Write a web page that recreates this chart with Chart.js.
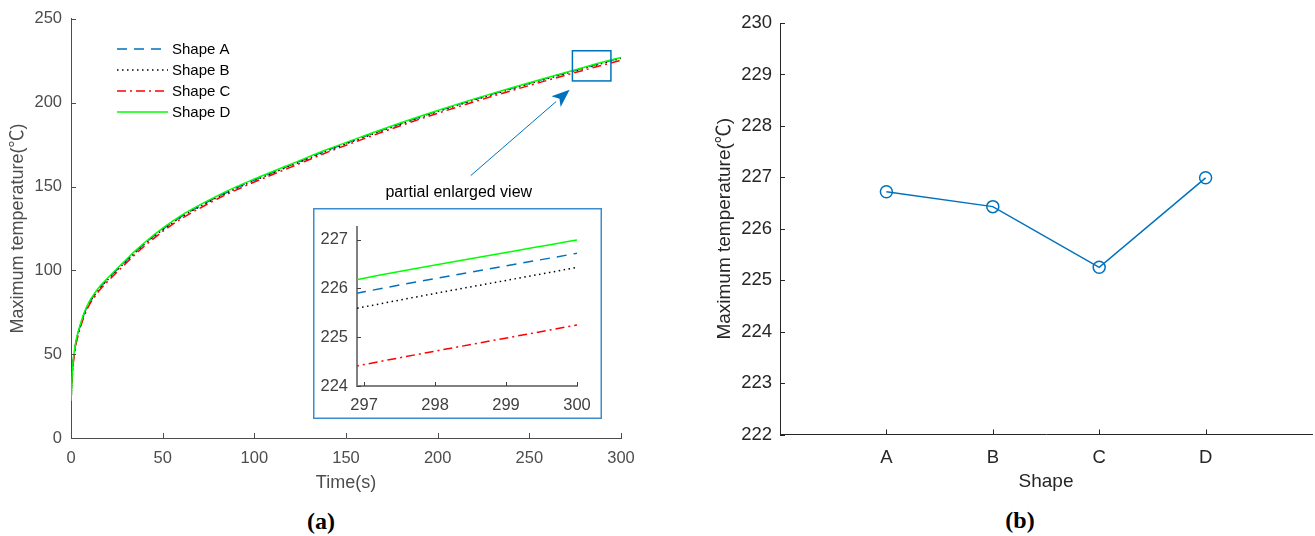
<!DOCTYPE html>
<html>
<head>
<meta charset="utf-8">
<script src="https://cdn.jsdelivr.net/npm/chart.js"></script>
<style>
  body { margin: 0; background: #fff; }
  #page { position: relative; width: 1315px; height: 536px; overflow: hidden; background: #fff; }
  #page canvas { position: absolute; }
  .tag { position: absolute; font: bold 24px 'Liberation Serif', 'DejaVu Serif', serif; color: #000; transform: translate(-50%, -50%); }
</style>
</head>
<body>
<div id="page">
  <canvas id="chartA" width="660" height="500" style="left:0px;top:0px"></canvas>
  <canvas id="chartInset" width="289" height="211" style="left:313px;top:208px"></canvas>
  <canvas id="chartB" width="624" height="500" style="left:700px;top:0px"></canvas>
  <div class="tag" style="left:321px;top:521px">(a)</div>
  <div class="tag" style="left:1020px;top:520px">(b)</div>
</div>

<script>
    // time (s) and maximum temperature for each shape
    const times = [0, 1, 2, 3, 5, 7, 10, 13, 16, 20, 25, 30, 35, 40, 50, 60, 70, 80, 90, 100,
        110, 120, 140, 160, 180, 200, 220, 240, 260, 280, 297, 300];
    const shapeA = [22, 43.3, 52.3, 58.8, 66.8, 73.6, 80.8, 85.8, 90.1, 94.7, 100.3, 105.6, 110.9, 115.8, 124.5,
        132.0, 138.2, 143.9, 149.1, 153.9, 158.4, 162.8, 171.7, 179.8, 187.6, 195.0, 201.9, 208.4, 214.7, 220.8, 225.93, 226.72];
    const shapeB = [22, 43.0, 52.0, 58.5, 66.5, 73.3, 80.5, 85.5, 89.8, 94.4, 100.0, 105.3, 110.6, 115.5, 124.2,
        131.7, 137.9, 143.6, 148.8, 153.6, 158.1, 162.5, 171.4, 179.5, 187.3, 194.7, 201.6, 208.1, 214.4, 220.5, 225.62, 226.43];
    const shapeC = [21.8, 41.5, 50.6, 57.2, 65.3, 72.1, 79.4, 84.4, 88.7, 93.3, 98.9, 104.2, 109.5, 114.4, 123.2,
        130.7, 136.9, 142.7, 147.9, 152.7, 157.2, 161.6, 170.5, 178.6, 186.4, 193.7, 200.6, 207.1, 213.4, 219.5, 224.44, 225.25];
    const shapeD = [22, 44, 53, 59.5, 67.5, 74.3, 81.5, 86.5, 90.8, 95.4, 101.0, 106.3, 111.6, 116.5, 125.2,
        132.7, 138.9, 144.6, 149.8, 154.5, 159.0, 163.4, 172.2, 180.3, 188.1, 195.4, 202.3, 208.8, 215.1, 221.2, 226.21, 226.99];
    const seriesNames = ['Shape A', 'Shape B', 'Shape C', 'Shape D'];

    // final maximum temperature per shape (right panel)
    const shapes = ['A', 'B', 'C', 'D'];
    const maxTemps = [226.72, 226.43, 225.25, 226.99];

    const FONT = "'Liberation Sans', Arial, 'Noto Sans CJK SC', sans-serif";
    Chart.defaults.font.family = FONT;
    Chart.defaults.animation = false;
    Chart.defaults.responsive = false;
    Chart.defaults.plugins.legend.display = false;
    Chart.defaults.plugins.tooltip.enabled = false;

    const pts = arr => arr.map((v, i) => ({x: times[i], y: v}));

    function makeDatasets() {
        const styles = [
            {color: '#0072BD', dash: [10, 7]},
            {color: '#000000', dash: [1.5, 3.5]},
            {color: '#FF0000', dash: [9, 4, 2, 4]},
            {color: '#00FF00', dash: []}
        ];
        return [shapeA, shapeB, shapeC, shapeD].map((arr, i) => ({
            label: seriesNames[i],
            data: pts(arr),
            showLine: true,
            borderColor: styles[i].color,
            borderDash: styles[i].dash,
            borderWidth: 1.5,
            pointRadius: 0,
            cubicInterpolationMode: 'monotone',
            order: 3 - i,
            clip: 0
        }));
    }

    // MATLAB style ticks pointing into the plot
    const innerTicks = {
        id: 'innerTicks',
        afterDatasetsDraw(chart, args, o) {
            const {ctx, chartArea: a} = chart;
            const xs = chart.scales.x, ys = chart.scales.y;
            ctx.save();
            ctx.strokeStyle = o.color;
            ctx.lineWidth = o.width;
            ctx.beginPath();
            xs.ticks.forEach(t => {
                if (o.skipEmpty && !t.label) return;
                const px = Math.round(xs.getPixelForValue(t.value)) + 0.5;
                ctx.moveTo(px, a.bottom);
                ctx.lineTo(px, a.bottom - o.length);
            });
            ys.ticks.forEach(t => {
                const py = Math.round(ys.getPixelForValue(t.value)) + 0.5;
                ctx.moveTo(a.left, py);
                ctx.lineTo(a.left + o.length, py);
            });
            ctx.stroke();
            ctx.restore();
        }
    };

    const lineLegend = {
        id: 'lineLegend',
        afterDraw(chart, args, o) {
            if (!o.show) return;
            const {ctx, chartArea: a} = chart;
            ctx.save();
            ctx.font = o.font;
            ctx.textBaseline = 'middle';
            ctx.fillStyle = '#000';
            chart.data.datasets.forEach((ds, i) => {
                const x = a.left + o.left;
                const y = a.top + o.top + i * o.gap;
                ctx.strokeStyle = ds.borderColor;
                ctx.lineWidth = ds.borderWidth;
                ctx.setLineDash(ds.borderDash);
                ctx.beginPath();
                ctx.moveTo(x, y);
                ctx.lineTo(x + o.len, y);
                ctx.stroke();
                ctx.setLineDash([]);
                ctx.fillText(ds.label, x + o.len + 4, y + 1);
            });
            ctx.restore();
        }
    };

    // zoom box, arrow and caption on the left panel
    const zoomNote = {
        id: 'zoomNote',
        afterDraw(chart, args, o) {
            if (!o.show) return;
            const {ctx} = chart;
            const xs = chart.scales.x, ys = chart.scales.y;
            ctx.save();
            ctx.strokeStyle = '#0072BD';
            ctx.fillStyle = '#0072BD';
            ctx.lineWidth = 1.5;
            const bx0 = xs.getPixelForValue(o.box[0]), bx1 = xs.getPixelForValue(o.box[1]);
            const by0 = ys.getPixelForValue(o.box[3]), by1 = ys.getPixelForValue(o.box[2]);
            ctx.strokeRect(bx0, by0, bx1 - bx0, by1 - by0);

            const tx = xs.getPixelForValue(o.arrow[0]), ty = ys.getPixelForValue(o.arrow[1]);
            const hx = xs.getPixelForValue(o.arrow[2]), hy = ys.getPixelForValue(o.arrow[3]);
            const ang = Math.atan2(hy - ty, hx - tx);
            const hl = 18, hw = 7;
            ctx.lineWidth = 1;
            ctx.beginPath();
            ctx.moveTo(tx, ty);
            ctx.lineTo(hx - hl * Math.cos(ang), hy - hl * Math.sin(ang));
            ctx.stroke();
            ctx.beginPath();
            ctx.moveTo(hx, hy);
            ctx.lineTo(hx - hl * Math.cos(ang) + hw * Math.sin(ang), hy - hl * Math.sin(ang) - hw * Math.cos(ang));
            ctx.lineTo(hx - hl * 0.75 * Math.cos(ang), hy - hl * 0.75 * Math.sin(ang));
            ctx.lineTo(hx - hl * Math.cos(ang) - hw * Math.sin(ang), hy - hl * Math.sin(ang) + hw * Math.cos(ang));
            ctx.closePath();
            ctx.fill();

            ctx.fillStyle = '#000';
            ctx.font = '16px ' + FONT;
            ctx.textAlign = 'center';
            ctx.textBaseline = 'middle';
            ctx.fillText(o.text, xs.getPixelForValue(o.textAt[0]), ys.getPixelForValue(o.textAt[1]));
            ctx.restore();
        }
    };

    // white panel with blue frame for the inset
    const insetFrame = {
        id: 'insetFrame',
        beforeDraw(chart, args, o) {
            if (!o.show) return;
            const {ctx, width, height} = chart;
            ctx.save();
            ctx.fillStyle = '#fff';
            ctx.fillRect(0, 0, width, height);
            ctx.restore();
        },
        afterDraw(chart, args, o) {
            if (!o.show) return;
            const {ctx, width, height} = chart;
            ctx.save();
            ctx.strokeStyle = '#3C8DCF';
            ctx.lineWidth = 1.5;
            ctx.strokeRect(0.75, 0.75, width - 1.5, height - 1.5);
            ctx.restore();
        }
    };

    function axis(opts) {
        return {
            type: 'linear',
            min: opts.min,
            max: opts.max,
            afterFit: opts.fit,
            grid: {display: false, drawTicks: false},
            border: {display: true, color: opts.axisColor, width: opts.axisWidth || 1},
            ticks: {
                stepSize: opts.step || 1,
                includeBounds: false,
                padding: opts.pad,
                color: opts.tickColor,
                font: {size: opts.tickSize},
                callback: opts.callback || (v => String(v))
            },
            title: opts.title ? {
                display: true,
                text: opts.title,
                color: opts.tickColor,
                font: {size: opts.titleSize},
                padding: opts.titlePad
            } : {display: false}
        };
    }

    // (a) full time history
    new Chart(document.getElementById('chartA'), {
        type: 'scatter',
        data: {datasets: makeDatasets()},
        options: {
            layout: {autoPadding: false, padding: {left: 0, top: 17, right: 39, bottom: 0}},
            scales: {
                x: axis({min: 0, max: 300, step: 50, pad: 11, axisColor: '#4d4d4d', tickColor: '#4d4d4d', tickSize: 16.5,
                    title: 'Time(s)', titleSize: 18, titlePad: {top: 0, bottom: 6},
                    fit: s => { s.height = 62; }}),
                y: axis({min: 0, max: 250, step: 50, pad: 9, axisColor: '#4d4d4d', tickColor: '#4d4d4d', tickSize: 16.5,
                    title: 'Maximum temperature(℃)', titleSize: 18, titlePad: {top: 7, bottom: 0},
                    fit: s => { s.width = 71; }})
            },
            plugins: {
                innerTicks: {color: '#4d4d4d', width: 1, length: 5},
                lineLegend: {show: true, font: '15px ' + FONT, left: 46, top: 30, gap: 21, len: 51},
                zoomNote: {show: true, box: [273.5, 294.5, 213, 231], arrow: [218, 156.5, 272, 207.7],
                    text: 'partial enlarged view', textAt: [211.5, 146.3]},
                insetFrame: {show: false}
            }
        },
        plugins: [innerTicks, lineLegend, zoomNote, insetFrame]
    });

    // inset: last three seconds
    new Chart(document.getElementById('chartInset'), {
        type: 'scatter',
        data: {datasets: makeDatasets()},
        options: {
            layout: {autoPadding: false, padding: {left: 0, top: 9, right: 25, bottom: 0}},
            scales: {
                x: axis({min: 296.9, max: 300, pad: 10, axisColor: '#808080', axisWidth: 2, tickColor: '#404040', tickSize: 16.5,
                    fit: s => { s.height = 33; }}),
                y: axis({min: 224, max: 227.26, pad: 9, axisColor: '#808080', axisWidth: 2, tickColor: '#404040', tickSize: 16.5,
                    fit: s => { s.width = 44; }})
            },
            plugins: {
                innerTicks: {color: '#404040', width: 1, length: 4},
                lineLegend: {show: false},
                zoomNote: {show: false},
                insetFrame: {show: true}
            }
        },
        plugins: [insetFrame, innerTicks, lineLegend, zoomNote]
    });

    // (b) maximum temperature by shape
    new Chart(document.getElementById('chartB'), {
        type: 'scatter',
        data: {
            datasets: [{
                data: maxTemps.map((v, i) => ({x: i + 1, y: v})),
                showLine: true,
                borderColor: '#0072BD',
                borderWidth: 1.5,
                pointRadius: 6,
                pointBorderWidth: 1.5,
                pointBackgroundColor: 'rgba(0,0,0,0)',
                pointBorderColor: '#0072BD',
                clip: false
            }]
        },
        options: {
            // the x tick padding (12) also reserves 12px on the right
            layout: {autoPadding: false, padding: {left: 0, top: 23, right: 0, bottom: 0}},
            scales: {
                x: axis({min: 0, max: 5, pad: 12, axisColor: '#262626', tickColor: '#262626', tickSize: 18.5,
                    title: 'Shape', titleSize: 19, titlePad: {top: 0, bottom: 7},
                    callback: v => shapes[v - 1] || '',
                    fit: s => { s.height = 65.5; }}),
                y: axis({min: 222, max: 230, pad: 8, axisColor: '#262626', tickColor: '#262626', tickSize: 18.5,
                    title: 'Maximum temperature(℃)', titleSize: 19, titlePad: {top: 13, bottom: 0},
                    fit: s => { s.width = 80; }})
            },
            plugins: {
                innerTicks: {color: '#262626', width: 1, length: 5, skipEmpty: true},
                lineLegend: {show: false},
                zoomNote: {show: false},
                insetFrame: {show: false}
            }
        },
        plugins: [innerTicks, lineLegend, zoomNote, insetFrame]
    });
</script>
</body>
</html>
